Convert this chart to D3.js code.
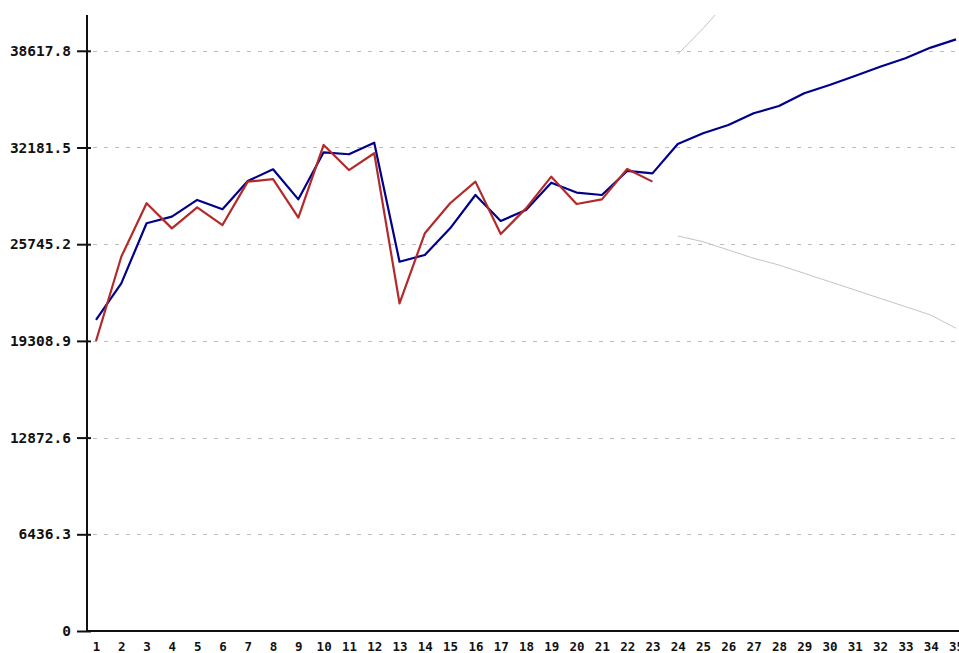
<!DOCTYPE html>
<html>
<head>
<meta charset="utf-8">
<script src="https://cdn.jsdelivr.net/npm/d3@7/dist/d3.min.js"></script>
<style>
  html, body { margin: 0; padding: 0; background: #fff; }
  svg { display: block; }
  .tick text { font-family: "DejaVu Sans Mono", monospace; fill: #111; }
</style>
</head>
<body>
<svg id="chart" width="959" height="653"></svg>
<script>
// Periods along the x axis
const categories = [1, 2, 3, 4, 5, 6, 7, 8, 9, 10, 11, 12, 13, 14, 15, 16, 17, 18,
  19, 20, 21, 22, 23, 24, 25, 26, 27, 28, 29, 30, 31, 32, 33, 34, 35];

// Fitted / forecast series (periods 1–35)
const fitted = [20700, 23140, 27140, 27580, 28690, 28070, 29950, 30730, 28730, 31860,
  31730, 32500, 24580, 25030, 26800, 29020, 27290, 28020, 29840, 29180,
  29020, 30620, 30460, 32420, 33130, 33680, 34460, 34940, 35790, 36340,
  36940, 37560, 38120, 38830, 39380];

// Observed series (periods 1–23)
const observed = [19300, 24910, 28470, 26800, 28200, 27020, 29910, 30070, 27510, 32350,
  30680, 31800, 21810, 26470, 28470, 29910, 26420, 28130, 30240, 28420,
  28730, 30750, 29910];

// Forecast interval bounds (periods 24–35)
const boundPeriods = [24, 25, 26, 27, 28, 29, 30, 31, 32, 33, 34, 35];
const lowerBound = [26290, 25910, 25360, 24810, 24360, 23810, 23250, 22700, 22140, 21590, 21030, 20150];
const upperBound = [38380, 40100, 42000, 44100, 45500, 47800, 49400, 51200, 53000, 54700, 56600, 58600];

// Y tick values and their labels
const yTicks = [0, 6436.3, 12872.6, 19308.9, 25745.2, 32181.5, 38617.8];
const yTickLabels = ["0", "6436.3", "12872.6", "19308.9", "25745.2", "32181.5", "38617.8"];

const svg = d3.select("#chart");
const W = 959, H = 653;
const axisX = 87, axisY = 631, topY = 15;

const x = d3.scaleLinear().domain([1, 35]).range([96, 956]);
const y = d3.scaleLinear().domain([0, 41000]).range([axisY, topY]);

svg.append("defs").append("clipPath").attr("id", "plot")
  .append("rect").attr("x", axisX).attr("y", topY)
  .attr("width", W - axisX).attr("height", axisY - topY);

// Dashed horizontal grid lines
svg.append("g").selectAll("line").data(yTicks.slice(1)).join("line")
  .attr("x1", axisX + 6).attr("x2", W)
  .attr("y1", d => Math.round(y(d)) + 0.5).attr("y2", d => Math.round(y(d)) + 0.5)
  .attr("stroke", "#bdbdbd").attr("stroke-width", 1)
  .attr("stroke-dasharray", "4,7");

const plot = svg.append("g").attr("clip-path", "url(#plot)");

const line = d3.line().x(d => x(d[0])).y(d => y(d[1]));

// Interval bounds
plot.append("path")
  .datum(boundPeriods.map((p, i) => [p, upperBound[i]]))
  .attr("d", line).attr("fill", "none").attr("stroke", "#c4c4c4").attr("stroke-width", 1);
plot.append("path")
  .datum(boundPeriods.map((p, i) => [p, lowerBound[i]]))
  .attr("d", line).attr("fill", "none").attr("stroke", "#c4c4c4").attr("stroke-width", 1);

// Fitted / forecast line
plot.append("path")
  .datum(fitted.map((v, i) => [categories[i], v]))
  .attr("d", line).attr("fill", "none").attr("stroke", "#00008b")
  .attr("stroke-width", 2.2).attr("stroke-linejoin", "round");

// Observed line
plot.append("path")
  .datum(observed.map((v, i) => [categories[i], v]))
  .attr("d", line).attr("fill", "none").attr("stroke", "#b22a2a")
  .attr("stroke-width", 2.2).attr("stroke-linejoin", "round");

// Y axis
const yAxis = svg.append("g").attr("transform", `translate(${axisX},0)`)
  .call(d3.axisLeft(y).tickValues(yTicks)
    .tickFormat((d, i) => yTickLabels[i]).tickSize(10).tickPadding(6));
yAxis.select(".domain").remove();
yAxis.selectAll(".tick line").attr("x1", 4).attr("stroke", "#111").attr("stroke-width", 2);
yAxis.selectAll(".tick text").attr("font-size", 14.5).attr("font-weight", "bold");
yAxis.append("line").attr("x1", 0).attr("x2", 0).attr("y1", topY).attr("y2", axisY + 1)
  .attr("stroke", "#111").attr("stroke-width", 2);

// X axis
const xAxis = svg.append("g").attr("transform", `translate(0,${axisY})`)
  .call(d3.axisBottom(x).tickValues(categories).tickFormat(d => String(d))
    .tickSize(0).tickPadding(11));
xAxis.select(".domain").remove();
xAxis.selectAll(".tick text").attr("font-size", 12.5).attr("font-weight", "bold");
xAxis.append("line").attr("x1", axisX - 1).attr("x2", W).attr("y1", 0).attr("y2", 0)
  .attr("stroke", "#111").attr("stroke-width", 2);
</script>
</body>
</html>
